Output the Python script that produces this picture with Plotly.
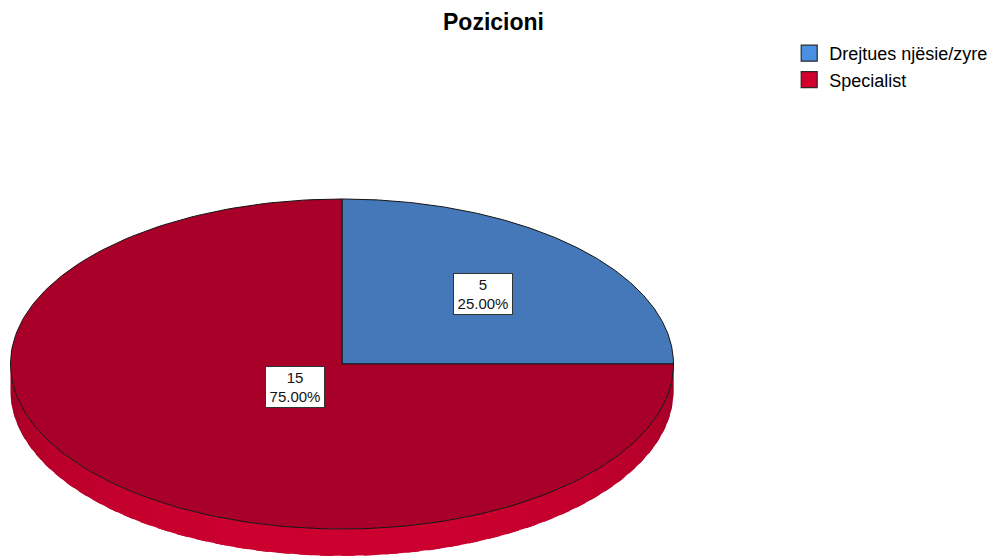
import numpy as np
import plotly.graph_objects as go

# ---- data ----
categories = ["Drejtues njësie/zyre", "Specialist"]
counts = [5, 15]
percent_labels = ["25.00%", "75.00%"]

# ---- styles ----
top_colors = ["rgb(68,120,184)", "rgb(168,0,40)"]
legend_colors = ["rgb(74,144,226)", "rgb(210,0,45)"]
side_dark = [(40, 80, 130), (148, 0, 34)]
side_bright = [(78, 138, 210), (205, 0, 48)]
label_radius = [0.6, 0.2]
W, H = 999, 556
CX, CY, RX, RY, DEPTH = 342.0, 364.0, 331.5, 165.0, 27.0
FONT = "Liberation Sans, Arial, sans-serif"

total = float(sum(counts))
start = 90.0  # degrees, clockwise
bounds = []
a0 = start
for c in counts:
    a1 = a0 - 360.0 * c / total
    bounds.append((a0, a1))
    a0 = a1


def pt(theta_deg, dy=0.0):
    t = np.radians(theta_deg)
    return CX + RX * np.cos(t), CY - RY * np.sin(t) + dy


def slice_at(theta):
    for i, (s, e) in enumerate(bounds):
        if (s - theta) % 360 < (s - e):
            return i
    return len(counts) - 1


fig = go.Figure()

# ---- side wall (visible lower half) ----
nseg = 48
step = 180.0 / nseg
for k in range(nseg):
    t0 = 180 + k * step
    t1 = min(360.0, t0 + step * 1.6)
    tm = t0 + step / 2
    idx = slice_at(tm)
    s = max(0.0, -np.sin(np.radians(tm))) ** 0.6
    dk, br = side_dark[idx], side_bright[idx]
    col = "rgb(%d,%d,%d)" % tuple(int(dk[j] + (br[j] - dk[j]) * s) for j in range(3))
    ts = np.linspace(t0, t1, 6)
    xs_top, ys_top = pt(ts)
    xs_bot, ys_bot = pt(ts[::-1], DEPTH)
    xs = list(xs_top) + list(xs_bot)
    ys = list(ys_top) + list(ys_bot)
    fig.add_trace(go.Scatter(x=xs, y=ys, mode="lines", fill="toself",
                             fillcolor=col, line=dict(width=0),
                             hoverinfo="skip", showlegend=False))

# ---- top face slices ----
for i, (s, e) in enumerate(bounds):
    ts = np.linspace(s, e, 200)
    ex, ey = pt(ts)
    xs = [CX] + list(ex) + [CX]
    ys = [CY] + list(ey) + [CY]
    fig.add_trace(go.Scatter(x=xs, y=ys, mode="lines", fill="toself",
                             fillcolor=top_colors[i],
                             line=dict(color="rgb(20,20,20)", width=1),
                             hoverinfo="skip", showlegend=False))

# ---- legend entries ----
for i, cat in enumerate(categories):
    fig.add_trace(go.Scatter(x=[None], y=[None], mode="markers", name=cat,
                             marker=dict(symbol="square", size=16, color=legend_colors[i],
                                         line=dict(color="rgb(40,40,40)", width=1.2))))

# ---- labels ----
for i, (s, e) in enumerate(bounds):
    mid = 0.5 * (s + e)
    t = np.radians(mid)
    lx = CX + label_radius[i] * RX * np.cos(t)
    ly = CY - label_radius[i] * RY * np.sin(t)
    fig.add_annotation(x=lx, y=ly, xref="x", yref="y",
                       text="%d<br>%s" % (counts[i], percent_labels[i]),
                       showarrow=False, font=dict(family=FONT, size=15, color="rgb(20,20,20)"),
                       bgcolor="white", bordercolor="rgb(50,50,50)", borderwidth=1,
                       borderpad=1, width=56, height=38, align="center")

fig.add_annotation(x=493 / W, y=1 - 22 / H, xref="paper", yref="paper",
                   text="<b>Pozicioni</b>", showarrow=False,
                   font=dict(family=FONT, size=23, color="black"),
                   xanchor="center", yanchor="middle")

fig.update_layout(
    width=W, height=H,
    margin=dict(l=0, r=0, t=0, b=0),
    paper_bgcolor="white", plot_bgcolor="white",
    xaxis=dict(range=[0, W], visible=False, fixedrange=True),
    yaxis=dict(range=[H, 0], visible=False, fixedrange=True),
    legend=dict(x=0.79, y=1 - 35 / H, xanchor="left", yanchor="top",
                font=dict(family=FONT, size=18, color="black"),
                itemsizing="trace", bgcolor="rgba(0,0,0,0)", tracegroupgap=0),
    showlegend=True,
)

fig.write_html("out.html", config={"displayModeBar": False},
               post_script="document.body.style.margin='0';document.body.style.overflow='hidden';")
